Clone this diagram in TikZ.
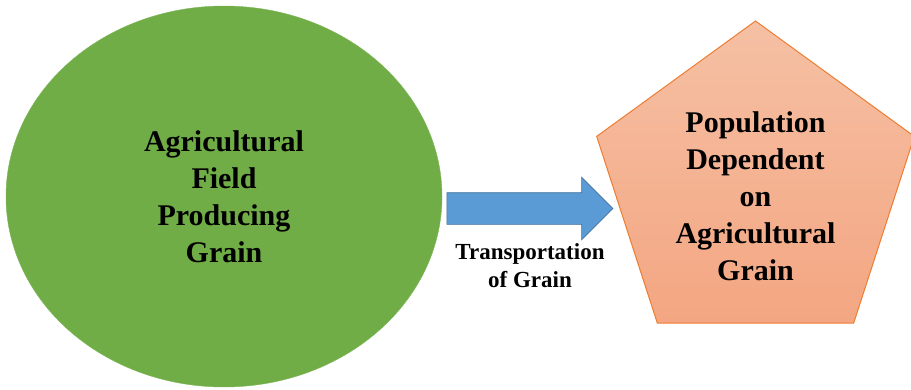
\documentclass[tikz,border=0pt]{standalone}
\usepackage{fontspec}
\setmainfont{Liberation Serif}
\usetikzlibrary{shapes.geometric, shapes.arrows}
\definecolor{fieldgreen}{RGB}{112,173,71}
\definecolor{moveblue}{RGB}{91,155,213}
\definecolor{moveedge}{RGB}{65,113,156}
\definecolor{popedge}{RGB}{237,125,49}
\definecolor{poptop}{RGB}{245,192,164}
\definecolor{popbottom}{RGB}{244,166,130}
\tikzset{
  bigtext/.style={font=\fontsize{30}{37}\selectfont\bfseries, align=center},
  smalltext/.style={font=\fontsize{23}{28}\selectfont\bfseries, align=center}
}
\begin{document}
\begin{tikzpicture}[x=1pt, y=-1pt]
		\useasboundingbox (0,0) rectangle (911,389);
		% grain field
		\node[ellipse, fill=fieldgreen, draw=fieldgreen!90!white, inner sep=0,
		      minimum width=436pt, minimum height=381pt, bigtext] (field) at (224,196.5)
		      {Agricultural\\Field\\Producing\\Grain};
		% population
		\node[regular polygon, regular polygon sides=5, draw=popedge, line width=1pt,
		      top color=poptop, bottom color=popbottom, minimum size=334pt, inner sep=0] (pop) at (755.5,188) {};
		\node[bigtext] (poptext) at (755.5,196) {Population\\Dependent\\on\\Agricultural\\Grain};
		% transport arrow, body 31pt wide
		\node[single arrow, fill=moveblue, draw=moveedge, line width=0.6pt, inner sep=0,
		      text height=15.5pt, text depth=15.5pt,
		      minimum height=166pt, single arrow head extend=15.5pt,
		      single arrow tip angle=90] (move) at (522,208.5) {};
		\node[smalltext] (movetext) at (530,266) {Transportation\\of Grain};
	\end{tikzpicture}
\end{document}
